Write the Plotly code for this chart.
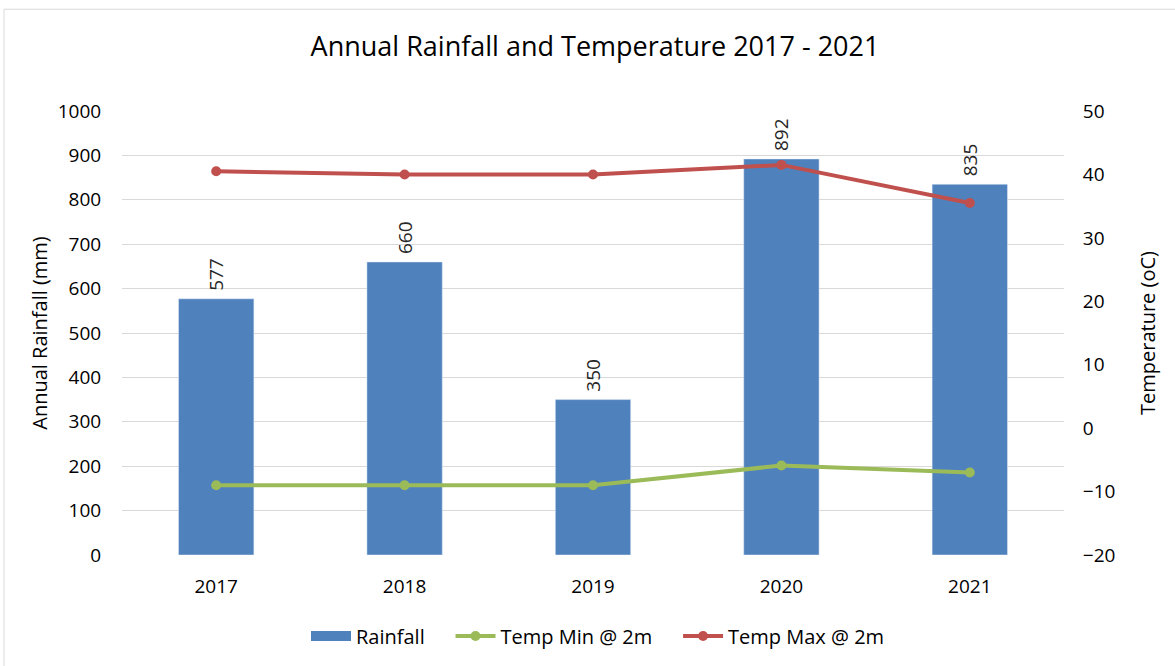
import plotly.graph_objects as go

years = ["2017", "2018", "2019", "2020", "2021"]
rainfall = [577, 660, 350, 892, 835]
temp_min = [-9.0, -9.0, -9.0, -5.9, -7.0]
temp_max = [40.5, 40.0, 40.0, 41.5, 35.5]

W, H = 1175, 666
ml, mr, mt, mb = 122, 111, 111, 110
pw, ph = W - ml - mr, H - mt - mb

font_fam = "Open Sans, sans-serif"
txt = "#262626"
bar_color = "#4F81BD"
nb = "\u00a0"
fig = go.Figure()
fig.add_trace(go.Bar(
    x=years, y=rainfall, name="Rainfall", marker_color=bar_color, showlegend=False,
    text=[nb + str(v) for v in rainfall], textposition="outside", textangle=-90,
    textfont=dict(size=19, color=txt, family=font_fam), cliponaxis=False,
))
fig.add_trace(go.Scatter(
    x=[None], y=[None], name="Rainfall" + nb * 4, mode="lines",
    line=dict(color=bar_color, width=12), hoverinfo="skip",
))
fig.add_trace(go.Scatter(
    x=years, y=temp_min, name="Temp Min @ 2m" + nb * 4, mode="lines+markers",
    line=dict(color="#9BBB59", width=4), marker=dict(size=10, color="#9BBB59"),
    yaxis="y2",
))
fig.add_trace(go.Scatter(
    x=years, y=temp_max, name="Temp Max @ 2m", mode="lines+markers",
    line=dict(color="#C0504D", width=4), marker=dict(size=10, color="#C0504D"),
    yaxis="y2",
))

fig.update_layout(
    width=W, height=H,
    margin=dict(l=ml, r=mr, t=mt, b=mb),
    paper_bgcolor="white", plot_bgcolor="white",
    font=dict(family=font_fam, color=txt, size=18),
    title=dict(text="Annual Rainfall and Temperature 2017 - 2021", x=(595 - ml) / pw, xanchor="center",
               xref="paper", y=1 - 47 / H, yanchor="middle", font=dict(size=27, color="#000000")),
    bargap=0.6,
    showlegend=True,
    legend=dict(orientation="h", x=(598 - ml) / pw, xanchor="center", y=-(636 - 556) / ph,
                yanchor="middle", font=dict(size=20, color="#000000"), traceorder="normal",
                itemwidth=40),
    xaxis=dict(showgrid=False, showline=False, ticks="outside", ticklen=14,
               tickcolor="rgba(0,0,0,0)", tickfont=dict(size=19, color="#000000")),
    yaxis=dict(range=[0, 1000], dtick=100, showgrid=True, gridcolor="#D9D9D9",
               zeroline=False, showline=False, ticks="outside", ticklen=16,
               tickcolor="rgba(0,0,0,0)",
               title=dict(text="Annual Rainfall (mm)", font=dict(size=20, color="#000000"), standoff=4),
               tickfont=dict(size=19, color="#000000")),
    yaxis2=dict(range=[-20, 50], dtick=10, overlaying="y", side="right", showgrid=False,
                zeroline=False, showline=False, ticks="outside", ticklen=14,
                tickcolor="rgba(0,0,0,0)",
                title=dict(text="Temperature (oC)", font=dict(size=20, color="#000000"), standoff=26),
                tickfont=dict(size=19, color="#000000")),
)

fig.add_shape(type="rect", xref="paper", yref="paper",
              x0=(4 - ml) / pw, x1=(W + 5 - ml) / pw,
              y0=(H - mt - (H + 5)) / ph, y1=(H - mt - 8) / ph,
              line=dict(color="#D9D9D9", width=1), fillcolor="rgba(0,0,0,0)", layer="below")

fig.write_html("out.html", config={"displayModeBar": False},
               post_script="document.body.style.margin='0';")
